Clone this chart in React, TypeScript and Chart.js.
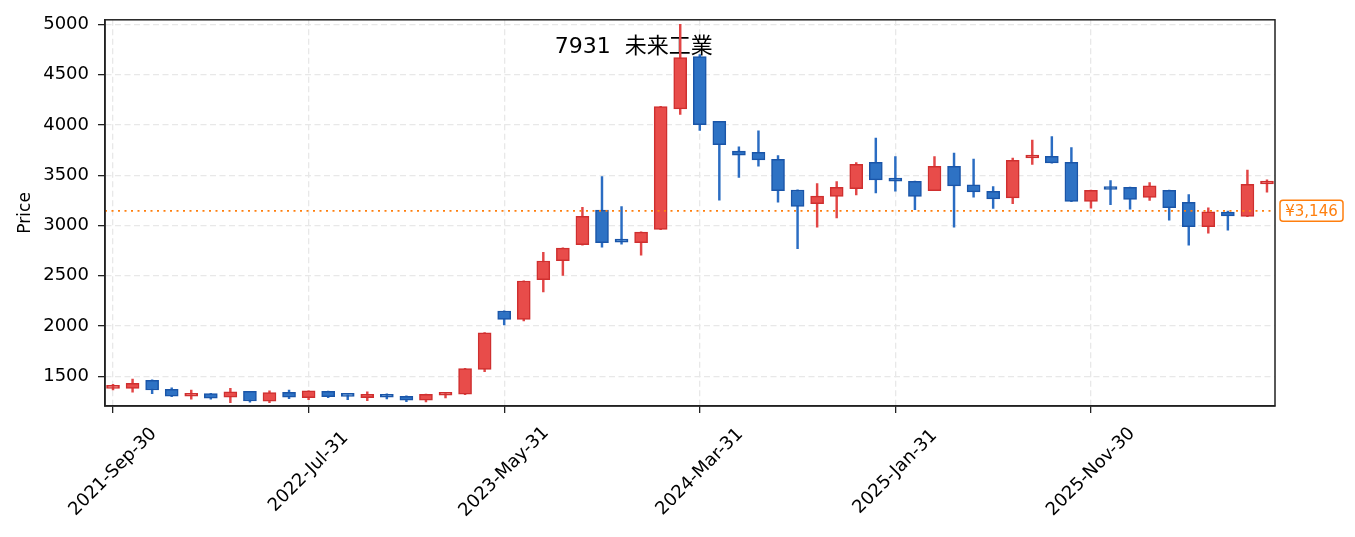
import { useEffect, useRef } from 'react';
import { Chart, registerables } from 'chart.js';

Chart.register(...registerables);

// month-end dates, one candle per month
const months = [
  '2021-Sep-30', '2021-Oct-31', '2021-Nov-30', '2021-Dec-31',
  '2022-Jan-31', '2022-Feb-28', '2022-Mar-31', '2022-Apr-30', '2022-May-31', '2022-Jun-30',
  '2022-Jul-31', '2022-Aug-31', '2022-Sep-30', '2022-Oct-31', '2022-Nov-30', '2022-Dec-31',
  '2023-Jan-31', '2023-Feb-28', '2023-Mar-31', '2023-Apr-30', '2023-May-31', '2023-Jun-30',
  '2023-Jul-31', '2023-Aug-31', '2023-Sep-30', '2023-Oct-31', '2023-Nov-30', '2023-Dec-31',
  '2024-Jan-31', '2024-Feb-29', '2024-Mar-31', '2024-Apr-30', '2024-May-31', '2024-Jun-30',
  '2024-Jul-31', '2024-Aug-31', '2024-Sep-30', '2024-Oct-31', '2024-Nov-30', '2024-Dec-31',
  '2025-Jan-31', '2025-Feb-28', '2025-Mar-31', '2025-Apr-30', '2025-May-31', '2025-Jun-30',
  '2025-Jul-31', '2025-Aug-31', '2025-Sep-30', '2025-Oct-31', '2025-Nov-30', '2025-Dec-31',
  '2026-Jan-31', '2026-Feb-28', '2026-Mar-31', '2026-Apr-30', '2026-May-31', '2026-Jun-30',
  '2026-Jul-31', '2026-Aug-31',
];

const opens = [
  1380, 1381, 1460, 1371, 1302, 1328, 1292, 1351, 1252, 1342,
  1289, 1351, 1315, 1289, 1322, 1302, 1262, 1312, 1322, 1569,
  2150, 2065, 2462, 2650, 2809, 3152, 2858, 2829, 2961, 4160,
  4679, 4035, 3740, 3728, 3658, 3353, 3218, 3288, 3367, 3628,
  3470, 3440, 3347, 3588, 3403, 3340, 3275, 3671, 3687, 3628,
  3238, 3380, 3380, 3278, 3350, 3231, 2987, 3132, 3089, 3412,
];
const highs = [
  1420, 1473, 1465, 1385, 1364, 1330, 1381, 1352, 1356, 1364,
  1357, 1353, 1317, 1345, 1325, 1305, 1324, 1334, 1580, 1935,
  2152, 2450, 2733, 2778, 3180, 3486, 3189, 2936, 4185, 5000,
  4700, 4036, 3783, 3942, 3694, 3355, 3416, 3437, 3625, 3870,
  3684, 3442, 3684, 3720, 3661, 3387, 3671, 3850, 3883, 3774,
  3352, 3446, 3382, 3426, 3352, 3308, 3176, 3142, 3552, 3453,
];
const lows = [
  1365, 1342, 1328, 1298, 1272, 1272, 1238, 1242, 1238, 1278,
  1269, 1288, 1268, 1259, 1275, 1248, 1245, 1285, 1318, 1546,
  2012, 2050, 2339, 2504, 2805, 2785, 2815, 2705, 2958, 4104,
  3945, 3251, 3479, 3589, 3231, 2769, 2984, 3076, 3304, 3324,
  3340, 3156, 3345, 2984, 3281, 3169, 3218, 3608, 3620, 3236,
  3172, 3208, 3162, 3248, 3053, 2805, 2924, 2954, 3087, 3330,
];
const closes = [
  1392, 1430, 1364, 1302, 1332, 1282, 1347, 1255, 1338, 1292,
  1355, 1298, 1300, 1322, 1292, 1262, 1322, 1330, 1578, 1932,
  2065, 2448, 2647, 2775, 3092, 2829, 2835, 2934, 4183, 4669,
  4002, 3803, 3700, 3652, 3347, 3189, 3291, 3380, 3608, 3453,
  3440, 3288, 3588, 3393, 3334, 3265, 3648, 3685, 3622, 3238,
  3350, 3358, 3258, 3394, 3176, 2987, 3136, 3095, 3409, 3440,
];

const xTickIndex = [0, 10, 20, 30, 40, 50];
const yTicks = [1500, 2000, 2500, 3000, 3500, 4000, 4500, 5000];
const lastPrice = 3146;
const title = '7931  未来工業';

const UP_FILL = '#e84c4a';
const UP_EDGE = '#cf2f2f';
const DOWN_FILL = '#2e72c4';
const DOWN_EDGE = '#1a55a8';
const ORANGE = '#ff7f0e';
const FONT = '"DejaVu Sans", "Noto Sans CJK JP", sans-serif';

const isUp = opens.map((o, i) => closes[i] >= o);

const chartDecor = {
  id: 'chartDecor',
  beforeDatasetsDraw(chart: Chart) {
    const { ctx, chartArea } = chart;
    ctx.save();
    ctx.font = `22px ${FONT}`;
    ctx.fillStyle = '#000';
    ctx.textAlign = 'center';
    ctx.textBaseline = 'alphabetic';
    ctx.fillText(title, chartArea.left + (chartArea.right - chartArea.left) * 0.452, chartArea.top + 33);
    ctx.restore();
  },
  afterDatasetsDraw(chart: Chart) {
    const { ctx, chartArea, scales } = chart;
    const y = scales.y.getPixelForValue(lastPrice);
    ctx.save();
    ctx.strokeStyle = ORANGE;
    ctx.lineWidth = 1.8;
    ctx.setLineDash([2, 4.5]);
    ctx.beginPath();
    ctx.moveTo(chartArea.left, y);
    ctx.lineTo(chartArea.right, y);
    ctx.stroke();
    ctx.restore();
  },
  afterDraw(chart: Chart) {
    const { ctx, chartArea, scales } = chart;
    ctx.save();
    // frame
    ctx.strokeStyle = '#222';
    ctx.lineWidth = 1.5;
    ctx.strokeRect(chartArea.left, chartArea.top, chartArea.right - chartArea.left, chartArea.bottom - chartArea.top);

    // rotated date labels, box centred on tick
    ctx.font = `18px ${FONT}`;
    ctx.fillStyle = '#000';
    ctx.textAlign = 'center';
    ctx.textBaseline = 'middle';
    xTickIndex.forEach((idx) => {
      const px = scales.x.getPixelForValue(idx);
      ctx.save();
      ctx.translate(px, chartArea.bottom + 66);
      ctx.rotate(-Math.PI / 4);
      ctx.fillText(months[idx], 0, 0);
      ctx.restore();
    });

    // last price tag
    const y = scales.y.getPixelForValue(lastPrice);
    const label = '¥' + lastPrice.toLocaleString('en-US');
    const bx = chartArea.right + 5;
    const bw = 63;
    const bh = 21;
    ctx.beginPath();
    ctx.roundRect(bx, y - bh / 2, bw, bh, 3);
    ctx.fillStyle = '#fff';
    ctx.fill();
    ctx.strokeStyle = ORANGE;
    ctx.lineWidth = 1.5;
    ctx.stroke();
    ctx.font = `15px ${FONT}`;
    ctx.fillStyle = ORANGE;
    ctx.fillText(label, bx + bw / 2, y + 1);
    ctx.restore();
  },
};

export default function App() {
  const canvasRef = useRef<HTMLCanvasElement | null>(null);
  const chartRef = useRef<Chart | null>(null);

  useEffect(() => {
    if (!canvasRef.current) return;

    chartRef.current = new Chart(canvasRef.current, {
      type: 'bar',
      data: {
        datasets: [
          {
            label: 'body',
            data: opens.map((o, i) => ({ x: i, y: [o, closes[i]] })) as any,
            backgroundColor: isUp.map((u) => (u ? UP_FILL : DOWN_FILL)),
            borderColor: isUp.map((u) => (u ? UP_EDGE : DOWN_EDGE)),
            borderWidth: 1.5,
            borderSkipped: false,
            barThickness: 13,
            minBarLength: 3,
            grouped: false,
            order: 0,
          },
          {
            label: 'wick',
            data: lows.map((l, i) => ({ x: i, y: [l, highs[i]] })) as any,
            backgroundColor: isUp.map((u) => (u ? '#e24545' : '#2a6cc2')),
            borderWidth: 0,
            barThickness: 1.8,
            grouped: false,
            order: 1,
          },
        ],
      },
      options: {
        responsive: false,
        animation: false,
        events: [],
        layout: { padding: { left: 0, top: 18, right: 80, bottom: 0 } },
        plugins: {
          legend: { display: false },
          tooltip: { enabled: false },
        },
        scales: {
          x: {
            type: 'linear',
            min: -0.41,
            max: 59.41,
            offset: false,
            afterBuildTicks: (scale: any) => {
              scale.ticks = xTickIndex.map((v) => ({ value: v }));
            },
            afterFit: (scale: any) => {
              scale.height = 131;
            },
            ticks: { display: false },
            grid: {
              offset: false,
              color: '#e8e8e8',
              lineWidth: 1.3,
              tickColor: '#222',
              tickLength: 7,
              tickWidth: 1.3,
            },
            border: { display: true, color: '#222', width: 1.5, dash: [6, 3.5] },
          },
          y: {
            type: 'linear',
            min: 1205,
            max: 5045,
            afterBuildTicks: (scale: any) => {
              scale.ticks = yTicks.map((v) => ({ value: v }));
            },
            afterFit: (scale: any) => {
              scale.width = 105;
            },
            ticks: {
              color: '#000',
              padding: 9,
              font: { family: FONT, size: 18 },
              callback: (v: any) => String(v),
            },
            title: {
              display: true,
              text: 'Price',
              color: '#000',
              font: { family: FONT, size: 17 },
              padding: { top: 15, bottom: 0 },
            },
            grid: {
              color: '#e8e8e8',
              lineWidth: 1.3,
              tickColor: '#222',
              tickLength: 7,
              tickWidth: 1.3,
            },
            border: { display: true, color: '#222', width: 1.5, dash: [6, 3.5] },
          },
        },
      },
      plugins: [chartDecor],
    });

    return () => {
      if (chartRef.current) {
        chartRef.current.destroy();
        chartRef.current = null;
      }
    };
  }, []);

  return (
    <div style={{ position: 'fixed', left: 0, top: 0, width: 1355, height: 537, background: '#fff' }}>
      <canvas ref={canvasRef} width={1355} height={537} style={{ width: 1355, height: 537 }} />
    </div>
  );
}
